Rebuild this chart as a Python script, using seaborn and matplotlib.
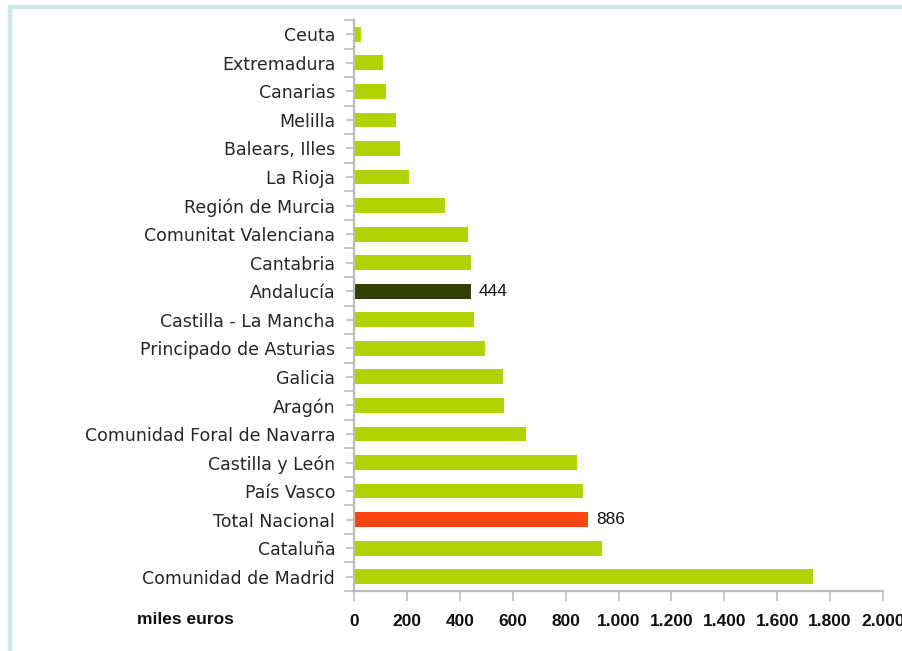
import matplotlib
matplotlib.use("Agg")
import matplotlib.pyplot as plt
from matplotlib.ticker import FixedLocator, FuncFormatter
from matplotlib.lines import Line2D
import seaborn as sns
import pandas as pd

regions = [
    "Ceuta", "Extremadura", "Canarias", "Melilla", "Balears, Illes", "La Rioja",
    "Región de Murcia", "Comunitat Valenciana", "Cantabria", "Andalucía",
    "Castilla - La Mancha", "Principado de Asturias", "Galicia", "Aragón",
    "Comunidad Foral de Navarra", "Castilla y León", "País Vasco",
    "Total Nacional", "Cataluña", "Comunidad de Madrid",
]
values = [26, 109, 121, 158, 174, 208, 343, 430, 442, 444,
          453, 494, 562, 566, 649, 842, 864, 886, 936, 1736]
labelled = ["Andalucía", "Total Nacional"]
x_ticks = [0, 200, 400, 600, 800, 1000, 1200, 1400, 1600, 1800, 2000]
x_title = "miles euros"

GREEN = "#b1d100"
DARK = "#313f00"
RED = "#fc4512"
bar_colors = {r: GREEN for r in regions}
bar_colors["Andalucía"] = DARK
bar_colors["Total Nacional"] = RED

df = pd.DataFrame({"region": regions, "value": values})

sns.set_theme(style="white")
plt.rcParams["font.family"] = ["DejaVu Sans"]

fig = plt.figure(figsize=(9.03, 6.51), dpi=100)
ax = fig.add_axes([354 / 903, 60 / 651, 529 / 903, 571 / 651])

sns.barplot(data=df, x="value", y="region", hue="region", palette=bar_colors,
            order=regions, orient="h", width=0.52, linewidth=0, legend=False,
            saturation=1, ax=ax)

ax.set_xlim(0, 2000)
ax.set_ylim(len(regions) - 0.5, -0.5)
ax.set_xlabel("")
ax.set_ylabel("")

# value labels
for i, (r, v) in enumerate(zip(regions, values)):
    if r in labelled:
        ax.text(v + 28, i, f"{v}", va="center", ha="left", fontsize=12.5,
                family="Liberation Sans", color="#111111")

# spines
for s in ["top", "right"]:
    ax.spines[s].set_visible(False)
for s in ["left", "bottom"]:
    ax.spines[s].set_color("#bdbdbd")
    ax.spines[s].set_linewidth(1.6)

# x axis ticks
ax.xaxis.set_major_locator(FixedLocator(x_ticks))
ax.xaxis.set_major_formatter(FuncFormatter(lambda v, p: f"{int(v):,}".replace(",", ".")))
ax.tick_params(axis="x", which="major", direction="out", length=7.5, width=1.2,
               color="#bdbdbd", pad=9, labelsize=12.5, labelcolor="#111111", bottom=True)
for lab in ax.get_xticklabels():
    lab.set_family("Liberation Sans")
    lab.set_fontweight("bold")

# y axis: labels on centre ticks, longer ticks at category boundaries
ax.yaxis.set_minor_locator(FixedLocator([i - 0.5 for i in range(len(regions) + 1)]))
ax.tick_params(axis="y", which="major", direction="out", length=5.5, width=1.2,
               color="#bdbdbd", pad=8, labelsize=12.5, labelcolor="#262626", left=True)
ax.tick_params(axis="y", which="minor", direction="out", length=7.5, width=1.2,
               color="#bdbdbd", left=True)

fig.text(137 / 903, 1 - 620 / 651, x_title, ha="left", va="center",
         fontsize=12.5, fontweight="bold", family="Liberation Sans", color="#111111")

# light frame around the chart area
frame = Line2D([10 / 903, 10 / 903, 1.0], [0.0, 1 - 7 / 651, 1 - 7 / 651],
               transform=fig.transFigure, color="#cde9e9", linewidth=3.2,
               solid_joinstyle="miter")
fig.add_artist(frame)

fig.savefig("out.png", dpi=100)
